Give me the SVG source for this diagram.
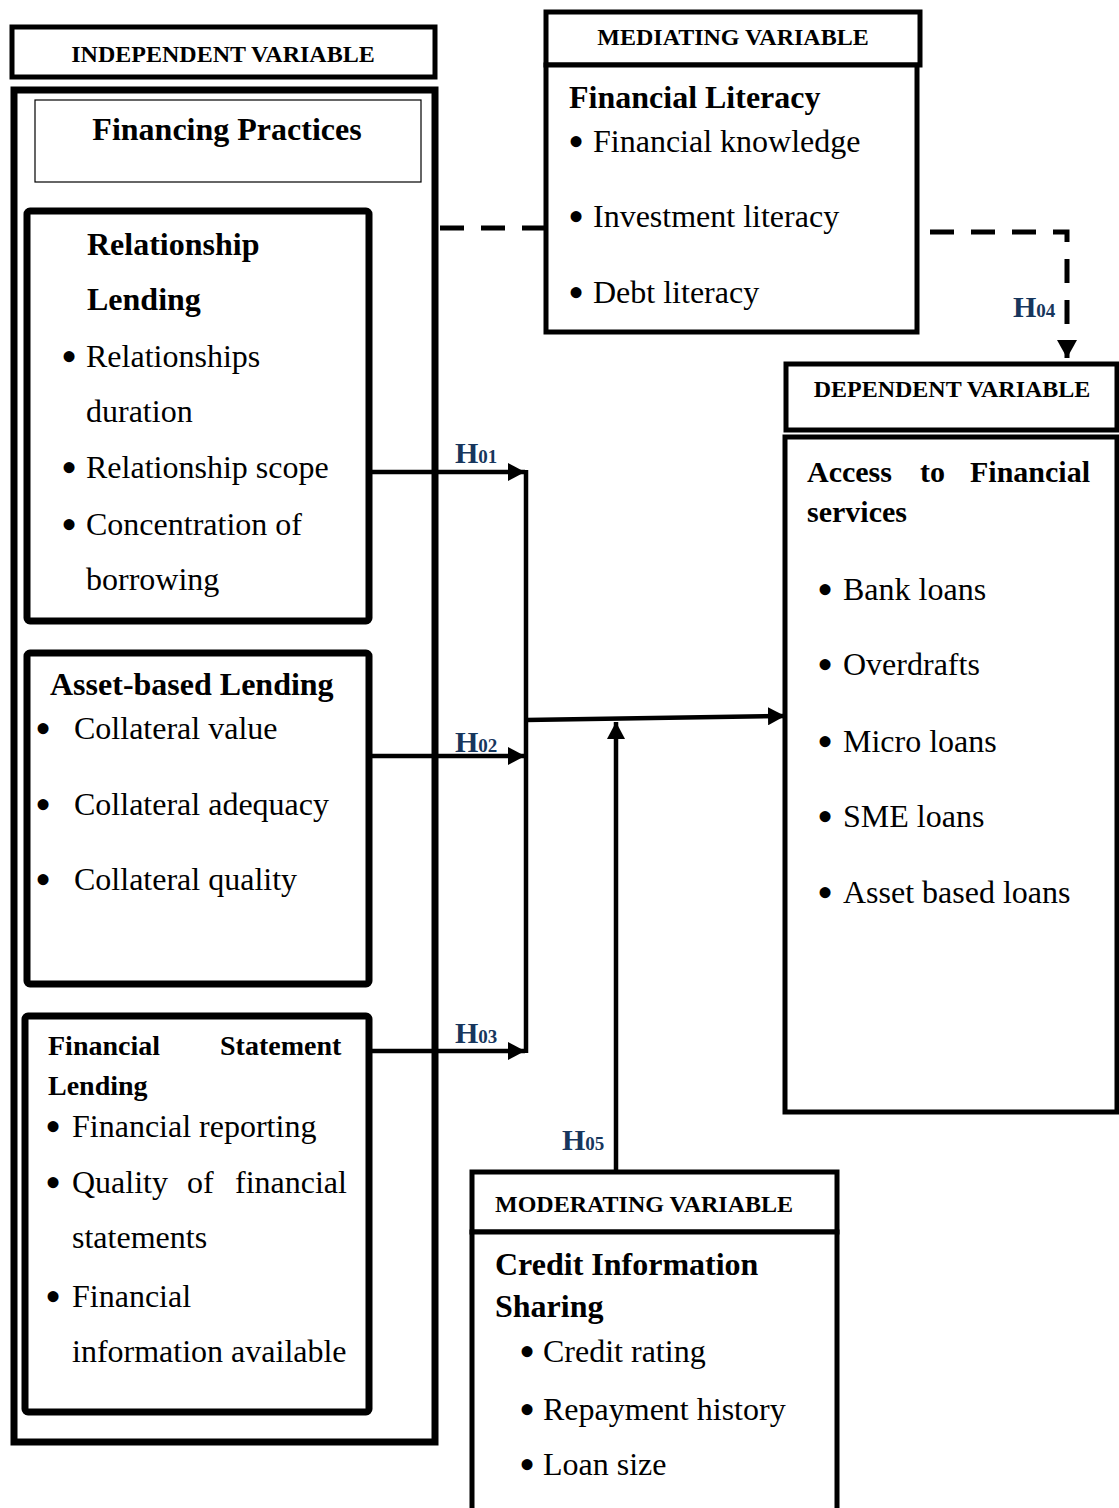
<svg xmlns="http://www.w3.org/2000/svg" width="1119" height="1508" viewBox="0 0 1119 1508">
<style>
  text { font-family: "Liberation Serif", "Times New Roman", serif; fill: #000; }
  .hdr { font-size: 24px; font-weight: bold; }
  .ttl { font-size: 32px; font-weight: bold; }
  .itm { font-size: 32px; }
  .b { font-size: 46px; }
  .h { font-size: 30px; font-weight: bold; fill: #17365D; }
  .sub { font-size: 19px; }
  .box { fill: #fff; stroke: #000; }
  .thick { stroke-width: 7; }
  .med { stroke-width: 5; }
  .thin { stroke-width: 1.2; }
  .con { stroke: #000; stroke-width: 4.5; fill: none; }
  .dash { stroke: #000; stroke-width: 5; fill: none; stroke-dasharray: 24 17; }
</style>
<defs>
  <marker id="arr" markerUnits="userSpaceOnUse" markerWidth="18" markerHeight="18" refX="17" refY="9" orient="auto">
    <path d="M0,0 L17,9 L0,18 z" fill="#000"/>
  </marker>
  <marker id="arrD" markerUnits="userSpaceOnUse" markerWidth="20" markerHeight="20" refX="18" refY="10" orient="auto">
    <path d="M0,0 L18,10 L0,20 z" fill="#000"/>
  </marker>
</defs>
<rect width="1119" height="1508" fill="#fff"/>

<g id="independent">
  <rect class="box med" x="12" y="27" width="423" height="50"/>
  <text class="hdr" x="223" y="62" text-anchor="middle">INDEPENDENT VARIABLE</text>
  <rect class="box thick" x="14" y="90" width="421" height="1352"/>
  <rect class="box thin" x="35" y="100" width="386" height="82"/>
  <text class="ttl" x="227" y="140" text-anchor="middle">Financing Practices</text>
</g>

<g id="relationship-lending">
  <rect class="box thick" x="27" y="211" width="342" height="410" rx="3"/>
  <text class="ttl" x="87" y="255">Relationship</text>
  <text class="ttl" x="87" y="310">Lending</text>
  <text class="b" x="61" y="372">•</text><text class="itm" x="86" y="367">Relationships</text>
  <text class="itm" x="86" y="422">duration</text>
  <text class="b" x="61" y="483">•</text><text class="itm" x="86" y="478">Relationship scope</text>
  <text class="b" x="61" y="540">•</text><text class="itm" x="86" y="535">Concentration of</text>
  <text class="itm" x="86" y="590">borrowing</text>
</g>

<g id="asset-based-lending">
  <rect class="box thick" x="27" y="653" width="342" height="331" rx="3"/>
  <text class="ttl" x="50" y="695">Asset-based Lending</text>
  <text class="b" x="35" y="744">•</text><text class="itm" x="74" y="739">Collateral value</text>
  <text class="b" x="35" y="820">•</text><text class="itm" x="74" y="815">Collateral adequacy</text>
  <text class="b" x="35" y="895">•</text><text class="itm" x="74" y="890">Collateral quality</text>
</g>

<g id="financial-statement-lending">
  <rect class="box thick" x="25" y="1016" width="344" height="396" rx="3"/>
  <text class="ttl" style="font-size:28px" y="1055"><tspan x="48">Financial</tspan><tspan x="220">Statement</tspan></text>
  <text class="ttl" style="font-size:28px" x="48" y="1095">Lending</text>
  <text class="b" x="45" y="1142">•</text><text class="itm" x="72" y="1137">Financial reporting</text>
  <text class="b" x="45" y="1198">•</text><text class="itm" y="1193"><tspan x="72">Quality</tspan><tspan x="187">of</tspan><tspan x="235">financial</tspan></text>
  <text class="itm" x="72" y="1248">statements</text>
  <text class="b" x="45" y="1312">•</text><text class="itm" x="72" y="1307">Financial</text>
  <text class="itm" x="72" y="1362">information available</text>
</g>

<g id="mediating">
  <rect class="box med" x="546" y="12" width="374" height="53"/>
  <text class="hdr" x="733" y="45" text-anchor="middle">MEDIATING VARIABLE</text>
  <rect class="box med" x="546" y="65" width="371" height="267"/>
  <text class="ttl" x="569" y="108">Financial Literacy</text>
  <text class="b" x="568" y="157">•</text><text class="itm" x="593" y="152">Financial knowledge</text>
  <text class="b" x="568" y="232">•</text><text class="itm" x="593" y="227">Investment literacy</text>
  <text class="b" x="568" y="308">•</text><text class="itm" x="593" y="303">Debt literacy</text>
</g>

<g id="dependent">
  <rect class="box med" x="786" y="364" width="331" height="66"/>
  <text class="hdr" x="952" y="397" text-anchor="middle">DEPENDENT VARIABLE</text>
  <rect class="box med" x="785" y="437" width="332" height="675"/>
  <text class="ttl" style="font-size:30px" y="482"><tspan x="807">Access</tspan><tspan x="920">to</tspan><tspan x="970">Financial</tspan></text>
  <text class="ttl" style="font-size:30px" x="807" y="522">services</text>
  <text class="b" x="817" y="605">•</text><text class="itm" x="843" y="600">Bank loans</text>
  <text class="b" x="817" y="680">•</text><text class="itm" x="843" y="675">Overdrafts</text>
  <text class="b" x="817" y="757">•</text><text class="itm" x="843" y="752">Micro loans</text>
  <text class="b" x="817" y="832">•</text><text class="itm" x="843" y="827">SME loans</text>
  <text class="b" x="817" y="908">•</text><text class="itm" x="843" y="903">Asset based loans</text>
</g>

<g id="moderating">
  <rect class="box med" x="472" y="1172" width="365" height="60"/>
  <text class="hdr" x="495" y="1212">MODERATING VARIABLE</text>
  <path d="M472,1515 V1232 H837 V1515" fill="#fff" stroke="#000" stroke-width="5"/>
  <text class="ttl" x="495" y="1275">Credit Information</text>
  <text class="ttl" x="495" y="1317">Sharing</text>
  <text class="b" x="519" y="1367">•</text><text class="itm" x="543" y="1362">Credit rating</text>
  <text class="b" x="519" y="1425">•</text><text class="itm" x="543" y="1420">Repayment history</text>
  <text class="b" x="519" y="1480">•</text><text class="itm" x="543" y="1475">Loan size</text>
</g>

<g id="connectors">
  <path class="dash" d="M440,228 H546"/>
  <path class="dash" d="M930,232 H1067 V358" marker-end="url(#arrD)"/>
  <path class="con" d="M369,472 H525" marker-end="url(#arr)"/>
  <path class="con" d="M369,756 H525" marker-end="url(#arr)"/>
  <path class="con" d="M369,1051 H525" marker-end="url(#arr)"/>
  <path class="con" d="M526,470 V1053"/>
  <path class="con" d="M526,720 L785,716" marker-end="url(#arr)"/>
  <path class="con" d="M616,1172 V722" marker-end="url(#arr)"/>
  <text class="h" x="455" y="463">H<tspan class="sub">01</tspan></text>
  <text class="h" x="455" y="752">H<tspan class="sub">02</tspan></text>
  <text class="h" x="455" y="1043">H<tspan class="sub">03</tspan></text>
  <text class="h" x="1013" y="317">H<tspan class="sub">04</tspan></text>
  <text class="h" x="562" y="1150">H<tspan class="sub">05</tspan></text>
</g>
</svg>
